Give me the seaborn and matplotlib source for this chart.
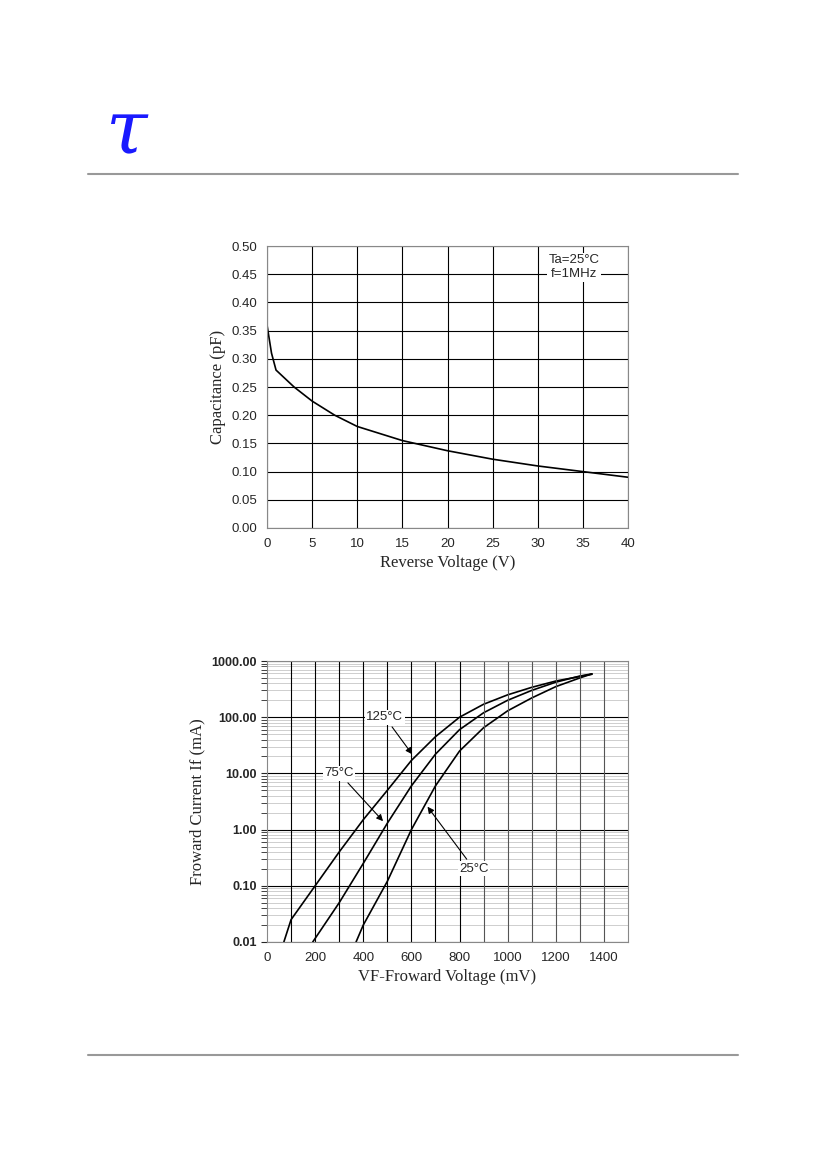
import numpy as np
import pandas as pd
import seaborn as sns
import matplotlib
matplotlib.use("Agg")
import matplotlib.pyplot as plt
from matplotlib.lines import Line2D
from matplotlib.ticker import LogLocator, NullFormatter, FixedLocator

sns.set_style("white")
plt.rcParams['font.family'] = ['Liberation Serif', 'DejaVu Serif']

# capacitance vs reverse voltage
vr = [0, 0.5, 1, 2, 3, 5, 7.5, 10, 15, 20, 25, 30, 35, 40]
cap = [0.36, 0.31, 0.28, 0.265, 0.25, 0.225, 0.2, 0.18, 0.155, 0.137, 0.122, 0.11, 0.1, 0.09]

# forward current vs forward voltage
vf_125 = [70, 100, 200, 300, 400, 500, 600, 700, 800, 900, 1000, 1100, 1200, 1300, 1350]
if_125 = [0.01, 0.025, 0.1, 0.4, 1.5, 5, 17, 45, 100, 170, 250, 340, 440, 530, 580]
vf_75 = [190, 300, 400, 500, 600, 700, 800, 900, 1000, 1100, 1200, 1300, 1350]
if_75 = [0.01, 0.05, 0.25, 1.3, 6, 22, 60, 120, 200, 300, 420, 540, 590]
vf_25 = [370, 400, 500, 600, 700, 800, 900, 1000, 1100, 1200, 1300, 1350]
if_25 = [0.01, 0.02, 0.12, 1.0, 6, 25, 65, 130, 220, 350, 500, 590]

fig = plt.figure(figsize=(8.26, 11.69), dpi=100)

# header / footer decorations
fig.add_artist(Line2D([88/826, 738/826], [1-174/1169]*2, color='#999999', lw=1.5))
fig.add_artist(Line2D([88/826, 738/826], [1-1055/1169]*2, color='#999999', lw=1.5))
fig.text(0.152, 1-132/1169, "τ", color='#1a1aff', fontsize=54, ha='center', va='center',
         style='italic', family=['DejaVu Serif'])

tick_font = dict(family=['Liberation Sans', 'DejaVu Sans'], size=9.5)

# top chart
ax1 = fig.add_axes([267/826, 1-528/1169, 361/826, 282/1169])
sns.lineplot(x=vr, y=cap, ax=ax1, color='black', lw=1.2)
ax1.set_xlim(0, 40)
ax1.set_ylim(0, 0.5)
ax1.set_xticks(range(0, 41, 5))
ax1.set_yticks(np.arange(0, 0.51, 0.05))
ax1.set_yticklabels([f"{v:.2f}" for v in np.arange(0, 0.51, 0.05)], **tick_font)
ax1.set_xticklabels([str(v) for v in range(0, 41, 5)], **tick_font)
ax1.grid(True, color='black', lw=0.8)
for s in ax1.spines.values():
    s.set_color('#888888')
ax1.set_xlabel("Reverse Voltage (V)", fontsize=12)
ax1.set_ylabel("Capacitance (pF)", fontsize=12)
ax1.text(34, 0.485, "Ta=25°C\nf=1MHz", ha='center', va='top', fontsize=9.5,
         family=['Liberation Sans', 'DejaVu Sans'],
         bbox=dict(facecolor='white', edgecolor='none', pad=1))

# bottom chart
ax2 = fig.add_axes([267/826, 1-942/1169, 361/826, 281/1169])
df = pd.concat([
    pd.DataFrame({'vf': vf_125, 'if': if_125, 't': '125'}),
    pd.DataFrame({'vf': vf_75, 'if': if_75, 't': '75'}),
    pd.DataFrame({'vf': vf_25, 'if': if_25, 't': '25'}),
])
sns.lineplot(data=df, x='vf', y='if', units='t', estimator=None, ax=ax2,
             color='black', lw=1.2, legend=False)
ax2.set_yscale('log')
ax2.set_xlim(0, 1500)
ax2.set_ylim(0.01, 1000)
ax2.xaxis.set_major_locator(FixedLocator(range(0, 1401, 200)))
ax2.set_xticklabels([str(v) for v in range(0, 1401, 200)], **tick_font)
ax2.yaxis.set_minor_locator(LogLocator(base=10, subs=np.arange(2, 10), numticks=10))
ax2.yaxis.set_minor_formatter(NullFormatter())
ax2.set_yticks([0.01, 0.1, 1, 10, 100, 1000])
ax2.set_yticklabels(["0.01", "0.10", "1.00", "10.00", "100.00", "1000.00"],
                    family=['Liberation Sans', 'DejaVu Sans'], size=9, weight='bold')
ax2.grid(True, which='major', axis='y', color='black', lw=0.8)
ax2.grid(True, which='minor', axis='y', color='#bbbbbb', lw=0.5)
for xv in range(100, 1500, 100):
    ax2.axvline(xv, color='black' if xv < 900 else '#555555', lw=0.8)
ax2.tick_params(axis='y', which='both', left=True, length=4)
for s in ax2.spines.values():
    s.set_color('#888888')
ax2.set_xlabel("VF-Froward Voltage (mV)", fontsize=12)
ax2.set_ylabel("Froward Current If (mA)", fontsize=12)

lab = dict(fontsize=9.5, family=['Liberation Sans', 'DejaVu Sans'], ha='center', va='center',
           bbox=dict(facecolor='white', edgecolor='none', pad=1),
           arrowprops=dict(arrowstyle='-|>', color='black', lw=0.8))
ax2.annotate("125°C", xy=(610, 20), xytext=(490, 100), **lab)
ax2.annotate("75°C", xy=(490, 1.3), xytext=(300, 10), **lab)
ax2.annotate("25°C", xy=(660, 2.8), xytext=(860, 0.2), **lab)

fig.savefig("out.png", dpi=100)
